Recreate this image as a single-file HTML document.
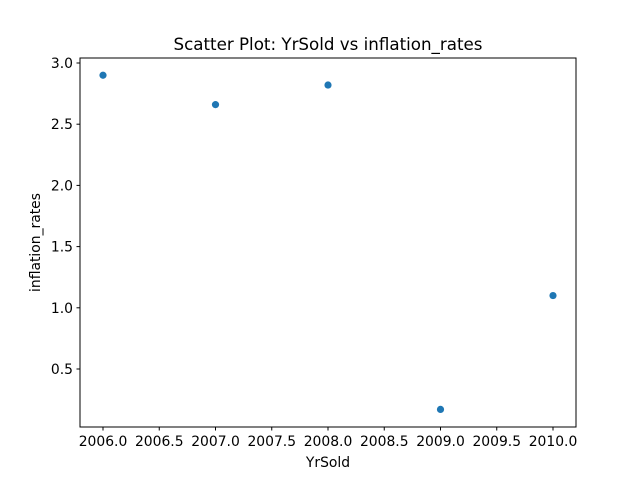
<!DOCTYPE html>
<html><head><meta charset="utf-8"><style>
body{margin:0;background:#fff}
svg text{font-family:"DejaVu Sans","Liberation Sans",sans-serif;fill:#000}
</style></head><body>
<svg id="chart" width="640" height="480" xmlns="http://www.w3.org/2000/svg">
<rect width="640" height="480" fill="#fff"/>
<text x="328" y="50" font-size="16.7" text-anchor="middle">Scatter Plot: YrSold vs inflation_rates</text>
<g id="xticks"></g>
<g id="yticks"></g>
<g id="points"></g>
<rect x="80" y="58" width="496" height="369" fill="none" stroke="#000" stroke-width="1"/>
<text x="328" y="467" font-size="13.9" text-anchor="middle">YrSold</text>
<text transform="translate(40,242.5) rotate(-90)" font-size="13.9" text-anchor="middle">inflation_rates</text>
</svg>
<script>
const years=[2006,2007,2008,2009,2010];
const rates=[2.90,2.66,2.82,0.17,1.10];
const xTickVals=[2006.0,2006.5,2007.0,2007.5,2008.0,2008.5,2009.0,2009.5,2010.0];
const yTickVals=[0.5,1.0,1.5,2.0,2.5,3.0];
const NS="http://www.w3.org/2000/svg";
function xs(v){return 103+(v-2006)*112.5;}
function ys(v){return 63+(3-v)*122.4;}
function mk(t,a,p){const e=document.createElementNS(NS,t);for(const k in a)e.setAttribute(k,a[k]);p.appendChild(e);return e;}
const gx=document.getElementById('xticks'),gy=document.getElementById('yticks'),gp=document.getElementById('points');
xTickVals.forEach(v=>{const x=xs(v);
const l=mk('line',{x1:x,x2:x,y1:427,y2:430.5,stroke:'#000'},gx);


const t=mk('text',{x:x,y:446,'font-size':13.9,'text-anchor':'middle'},gx);t.textContent=v.toFixed(1);

});
yTickVals.forEach(v=>{const y=ys(v);
const l=mk('line',{x1:76.5,x2:80,y1:y,y2:y,stroke:'#000'},gy);


const t=mk('text',{x:73,y:y+5,'font-size':13.9,'text-anchor':'end'},gy);t.textContent=v.toFixed(1);

});
years.forEach((yr,i)=>{const c=mk('circle',{cx:xs(yr),cy:ys(rates[i]),r:3.6,fill:'#1f77b4'},gp);

});
</script>
</body></html>
